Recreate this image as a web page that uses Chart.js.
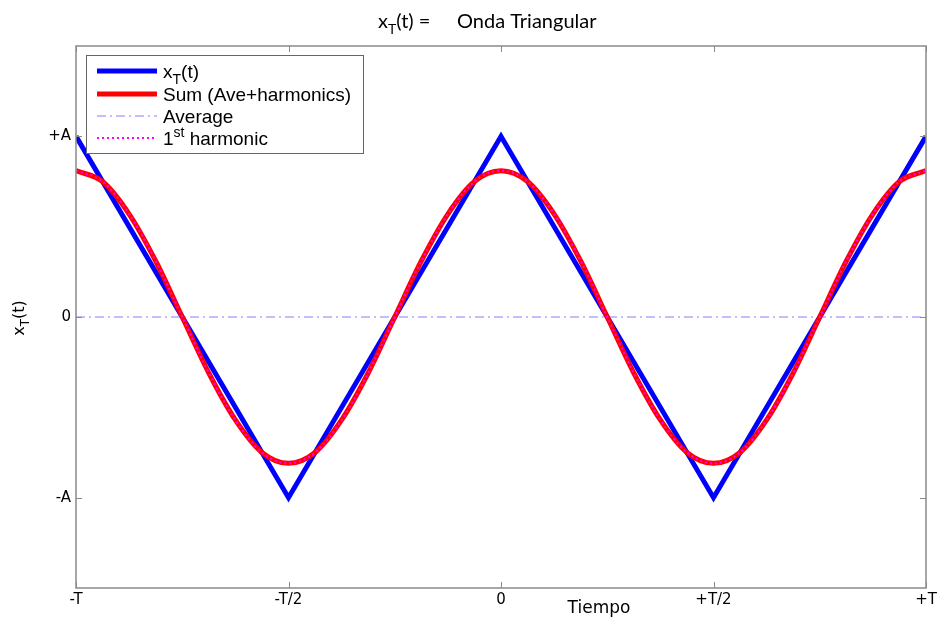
<!DOCTYPE html>
<html>
<head>
<meta charset="utf-8">
<script src="https://cdn.jsdelivr.net/npm/chart.js@4.4.0/dist/chart.umd.min.js"></script>
<style>
  html, body { margin: 0; padding: 0; background: #fff; }
  canvas { display: block; }
</style>
</head>
<body>
<canvas id="chart" width="940" height="619"></canvas>
<script>
// time in units of T, amplitude in units of A
const xTickValues = [-1, -0.5, 0, 0.5, 1];
const xTickLabels = ['-T', '-T/2', '0', '+T/2', '+T'];
const yTickValues = [-1, 0, 1];
const yTickLabels = ['-A', '0', '+A'];

const triTime = [-1, -0.5, 0, 0.5, 1];
const triVals = [1, -1, 1, -1, 1];

const sumTime = [-1, -0.9375, -0.875, -0.8125, -0.75, -0.6875, -0.625, -0.5625, -0.5,
  -0.4375, -0.375, -0.3125, -0.25, -0.1875, -0.125, -0.0625, 0,
  0.0625, 0.125, 0.1875, 0.25, 0.3125, 0.375, 0.4375, 0.5,
  0.5625, 0.625, 0.6875, 0.75, 0.8125, 0.875, 0.9375, 1];
const sumVals = [0.81, 0.75, 0.57, 0.31, 0, -0.31, -0.57, -0.75, -0.81,
  -0.75, -0.57, -0.31, 0, 0.31, 0.57, 0.75, 0.81,
  0.75, 0.57, 0.31, 0, -0.31, -0.57, -0.75, -0.81,
  -0.75, -0.57, -0.31, 0, 0.31, 0.57, 0.75, 0.81];
const harm1Vals = [0.81, 0.75, 0.57, 0.31, 0, -0.31, -0.57, -0.75, -0.81,
  -0.75, -0.57, -0.31, 0, 0.31, 0.57, 0.75, 0.81,
  0.75, 0.57, 0.31, 0, -0.31, -0.57, -0.75, -0.81,
  -0.75, -0.57, -0.31, 0, 0.31, 0.57, 0.75, 0.81];
const aveTime = [-1, 1];
const aveVals = [0, 0];

const pts = (xs, ys) => xs.map((x, i) => ({x: x, y: ys[i]}));

const GRAY = '#8a8a8a';

// "x_{T}(t)" style markup -> sub/superscript pieces
function richParts(s) {
  const parts = [];
  const re = /([_^])\{([^}]*)\}|([^_^]+)/g;
  let m;
  while ((m = re.exec(s))) {
    if (m[3]) parts.push({t: m[3], k: ''});
    else parts.push({t: m[2], k: m[1]});
  }
  return parts;
}

function drawRich(ctx, s, x, y, size, family, align) {
  const parts = richParts(s);
  const fontFor = p => (p.k ? Math.round(size * 0.72) : size) + 'px ' + family;
  let w = 0;
  parts.forEach(p => { ctx.font = fontFor(p); p.w = ctx.measureText(p.t).width; w += p.w; });
  let cx = align === 'center' ? x - w / 2 : align === 'right' ? x - w : x;
  ctx.textAlign = 'left';
  ctx.textBaseline = 'alphabetic';
  parts.forEach(p => {
    ctx.font = fontFor(p);
    const dy = p.k === '_' ? size * 0.32 : p.k === '^' ? -size * 0.42 : 0;
    ctx.fillText(p.t, cx, y + dy);
    cx += p.w;
  });
}

const frame = {
  id: 'frame',
  afterDraw(chart) {
    const {ctx, chartArea: a, scales} = chart;
    ctx.save();

    // box + inward ticks
    ctx.strokeStyle = GRAY;
    ctx.lineWidth = 1.5;
    ctx.strokeRect(a.left, a.top, a.right - a.left, a.bottom - a.top);
    ctx.lineWidth = 1;
    ctx.beginPath();
    scales.x.ticks.forEach(t => {
      const px = Math.round(scales.x.getPixelForValue(t.value)) + 0.5;
      ctx.moveTo(px, a.bottom); ctx.lineTo(px, a.bottom - 6);
      ctx.moveTo(px, a.top); ctx.lineTo(px, a.top + 6);
    });
    scales.y.ticks.forEach(t => {
      const py = Math.round(scales.y.getPixelForValue(t.value)) + 0.5;
      ctx.moveTo(a.left, py); ctx.lineTo(a.left + 6, py);
      ctx.moveTo(a.right, py); ctx.lineTo(a.right - 6, py);
    });
    ctx.stroke();

    // legend
    const lx = a.left + 10, ly = a.top + 9, lw = 277, lh = 98;
    ctx.fillStyle = '#fff';
    ctx.fillRect(lx, ly, lw, lh);
    ctx.strokeStyle = '#666';
    ctx.lineWidth = 1;
    ctx.strokeRect(lx + 0.5, ly + 0.5, lw, lh);
    const rows = [16, 39, 61, 83];
    chart.data.datasets.forEach((ds, i) => {
      const ry = ly + rows[i];
      ctx.strokeStyle = ds.borderColor;
      ctx.lineWidth = ds.borderWidth;
      ctx.setLineDash(ds.borderDash || []);
      ctx.beginPath();
      ctx.moveTo(lx + 11, ry);
      ctx.lineTo(lx + 71, ry);
      ctx.stroke();
      ctx.setLineDash([]);
      ctx.fillStyle = '#000';
      drawRich(ctx, ds.label, lx + 77, ry + 7, 19, '"Liberation Sans", Arial', 'left');
    });

    // title and axis titles
    ctx.fillStyle = '#000';
    drawRich(ctx, 'x_{T}(t) =', 378, 28, 20, 'Lato', 'left');
    drawRich(ctx, 'Onda Triangular', 457, 28, 20, 'Lato', 'left');
    drawRich(ctx, 'Tiempo', 599, 613, 17, '"DejaVu Sans"', 'center');
    ctx.save();
    ctx.translate(24, 318);
    ctx.rotate(-Math.PI / 2);
    drawRich(ctx, 'x_{T}(t)', 0, 0, 16, '"DejaVu Sans"', 'center');
    ctx.restore();

    ctx.restore();
  }
};

const tickFont = {family: 'DejaVu Sans', size: 15};

new Chart(document.getElementById('chart'), {
  type: 'line',
  data: {
    datasets: [
      {
        label: 'x_{T}(t)',
        data: pts(triTime, triVals),
        borderColor: '#0000ff',
        borderWidth: 5,
        tension: 0,
        order: 4
      },
      {
        label: 'Sum (Ave+harmonics)',
        data: pts(sumTime, sumVals),
        borderColor: '#ff0000',
        borderWidth: 5,
        cubicInterpolationMode: 'monotone',
        order: 2
      },
      {
        label: 'Average',
        data: pts(aveTime, aveVals),
        borderColor: '#8080ff',
        borderWidth: 1,
        borderDash: [9, 4, 2, 4],
        order: 3
      },
      {
        label: '1^{st} harmonic',
        data: pts(sumTime, harm1Vals),
        borderColor: '#ff00ff',
        borderWidth: 2,
        borderDash: [2, 3],
        cubicInterpolationMode: 'monotone',
        order: 1
      }
    ]
  },
  options: {
    responsive: false,
    devicePixelRatio: 1,
    animation: false,
    layout: {padding: {top: 46, right: 14, bottom: 0, left: 0}},
    elements: {point: {radius: 0}, line: {fill: false}},
    plugins: {legend: {display: false}, title: {display: false}, tooltip: {enabled: false}},
    scales: {
      x: {
        type: 'linear',
        min: -1,
        max: 1,
        grid: {display: false, drawTicks: false},
        border: {display: false},
        afterBuildTicks: s => { s.ticks = xTickValues.map(v => ({value: v})); },
        afterFit: s => { s.height = 31; s.paddingLeft = 0; s.paddingRight = 0; },
        ticks: {
          font: tickFont,
          color: '#000',
          padding: 3,
          maxRotation: 0,
          autoSkip: false,
          callback: v => xTickLabels[xTickValues.indexOf(v)]
        }
      },
      y: {
        type: 'linear',
        min: -1.5,
        max: 1.5,
        grid: {display: false, drawTicks: false},
        border: {display: false},
        afterBuildTicks: s => { s.ticks = yTickValues.map(v => ({value: v})); },
        afterFit: s => { s.width = 76; s.paddingTop = 0; s.paddingBottom = 0; },
        ticks: {
          font: tickFont,
          color: '#000',
          padding: 5,
          autoSkip: false,
          callback: v => yTickLabels[yTickValues.indexOf(v)]
        }
      }
    }
  },
  plugins: [frame]
});
</script>
</body>
</html>
